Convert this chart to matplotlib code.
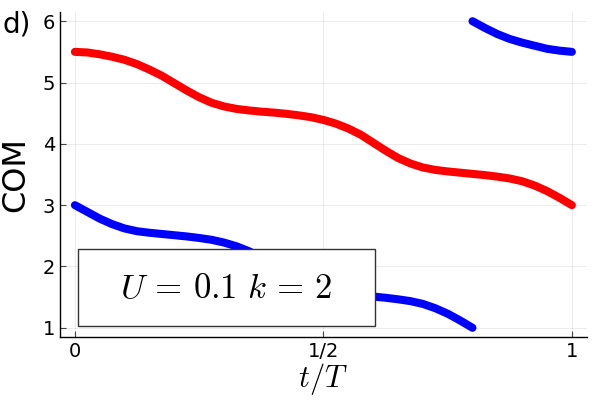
import numpy as np
import matplotlib.pyplot as plt
from matplotlib.patches import Rectangle

plt.rcParams['mathtext.fontset'] = 'cm'
plt.rcParams['font.family'] = 'DejaVu Sans'

# t/T in steps of 0.025
t_red = np.linspace(0, 1, 41)
com_red = [5.50, 5.49, 5.46, 5.42, 5.37, 5.30, 5.21, 5.11, 4.99, 4.87,
           4.76, 4.67, 4.61, 4.57, 4.545, 4.525, 4.51, 4.49, 4.465, 4.435,
           4.39, 4.33, 4.25, 4.15, 4.02, 3.89, 3.77, 3.68, 3.615, 3.575,
           3.55, 3.53, 3.51, 3.49, 3.465, 3.435, 3.39, 3.32, 3.23, 3.12, 3.00]

t_blue1 = np.linspace(0, 0.8, 33)
com_blue1 = [3.00, 2.89, 2.78, 2.69, 2.62, 2.575, 2.55, 2.53, 2.51, 2.49,
             2.465, 2.435, 2.39, 2.33, 2.25, 2.15, 2.02, 1.89, 1.77, 1.68,
             1.615, 1.575, 1.55, 1.53, 1.51, 1.49, 1.465, 1.435, 1.39, 1.32,
             1.23, 1.12, 1.00]

t_blue2 = np.linspace(0.8, 1, 9)
com_blue2 = [6.00, 5.89, 5.79, 5.71, 5.65, 5.60, 5.55, 5.52, 5.50]

xticks = [0, 0.5, 1]
xticklabels = ['0', '1/2', '1']
yticks = [1, 2, 3, 4, 5, 6]

fig = plt.figure(figsize=(6, 4), dpi=100)
ax = fig.add_axes([0.1, 0.1575, 0.878, 0.8125])

lw = 5.8
for x, y, c in [(t_red, com_red, 'red'), (t_blue1, com_blue1, 'blue'),
                (t_blue2, com_blue2, 'blue')]:
    ax.plot(x, y, color=c, lw=lw, solid_capstyle='round',
            solid_joinstyle='round', zorder=3)

ax.set_xlim(-0.03, 1.03)
ax.set_ylim(0.85, 6.15)
ax.set_xticks(xticks)
ax.set_xticklabels(xticklabels)
ax.set_yticks(yticks)
ax.tick_params(direction='in', length=4, width=0.8, color='#444444',
               labelsize=14)
ax.grid(True, color='black', alpha=0.08, lw=0.7)
for s in ['top', 'right']:
    ax.spines[s].set_visible(False)
for s in ['left', 'bottom']:
    ax.spines[s].set_linewidth(1.0)

ax.set_xlabel(r'$t/T$', fontsize=22, labelpad=0)
ax.set_ylabel('COM', fontsize=23, labelpad=8)

# legend-like box
box = Rectangle((0.034, 0.034), 0.564, 0.237, transform=ax.transAxes,
                facecolor='white', edgecolor='#333333', lw=1.0, zorder=5)
ax.add_patch(box)
ax.text(0.316, 0.152, r'$U\,=\,0.1\ k\,=\,2$', transform=ax.transAxes,
        ha='center', va='center', fontsize=25, zorder=6)

fig.text(0.005, 0.92, 'd)', fontsize=20, va='baseline', ha='left')

fig.savefig('out.png', dpi=100)
